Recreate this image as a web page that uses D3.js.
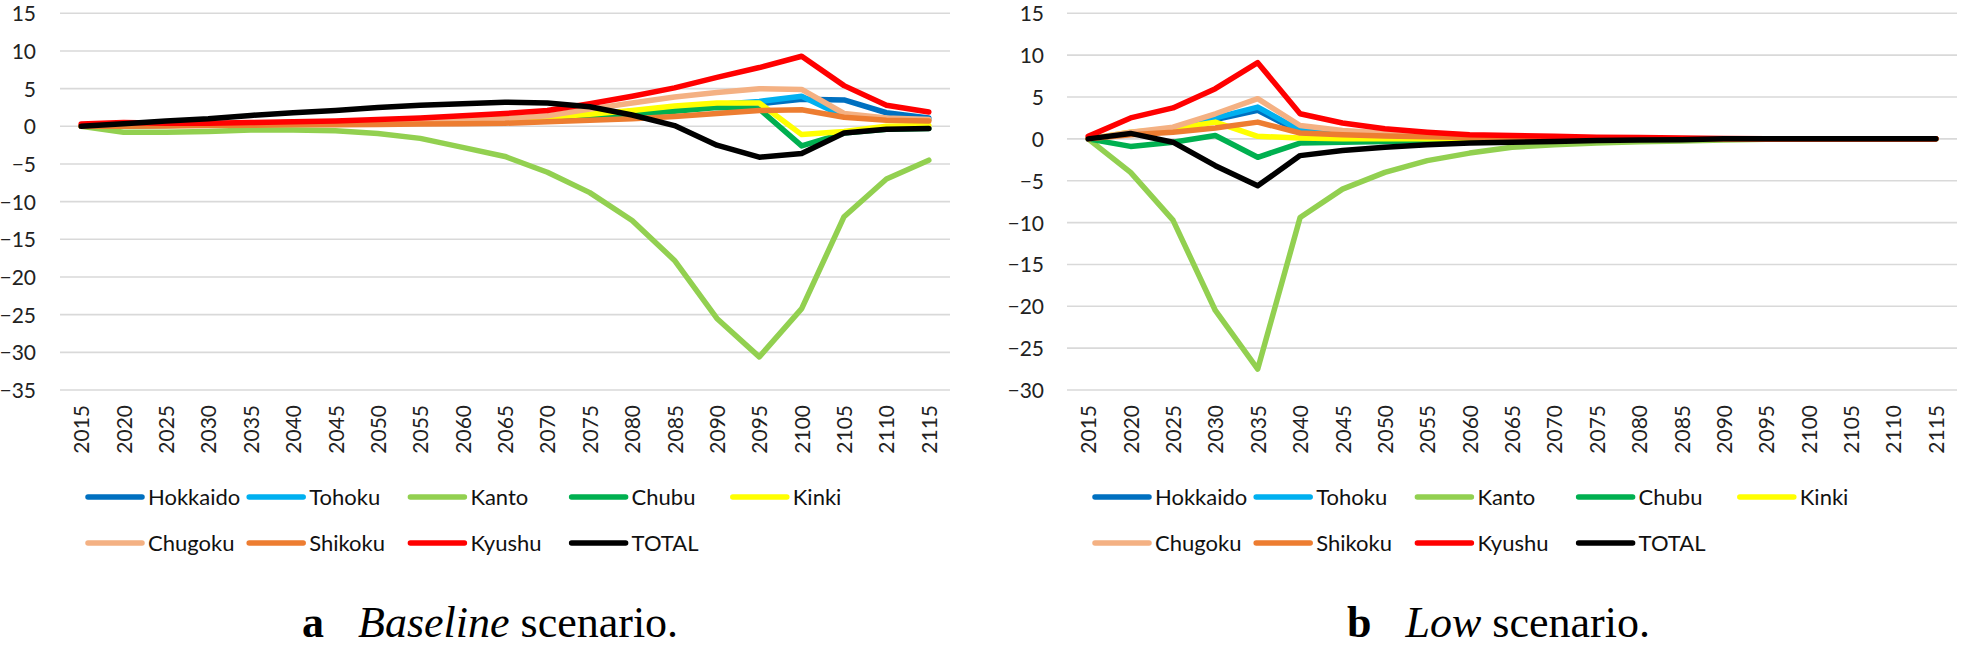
<!DOCTYPE html>
<html>
<head>
<meta charset="utf-8">
<script src="https://cdn.jsdelivr.net/npm/d3@7"></script>
<style>
  html, body { margin: 0; padding: 0; background: #fff; }
  svg { display: block; }
</style>
</head>
<body>
<script>
// ---------- data ----------
const years = ["2015","2020","2025","2030","2035","2040","2045","2050","2055","2060","2065",
               "2070","2075","2080","2085","2090","2095","2100","2105","2110","2115"];
const regions = ["Hokkaido","Tohoku","Kanto","Chubu","Kinki","Chugoku","Shikoku","Kyushu","TOTAL"];
const regionColors = ["#0070C0","#00B0F0","#92D050","#00B050","#FFFF00","#F4B183","#ED7D31","#FF0000","#000000"];

const yTicksBaseline = [15, 10, 5, 0, -5, -10, -15, -20, -25, -30, -35];
const yTicksLow = [15, 10, 5, 0, -5, -10, -15, -20, -25, -30];

// Baseline scenario
const baseHokkaido = [0,0.1,0.2,0.3,0.4,0.5,0.6,0.7,0.8,0.9,1.0,1.2,1.4,1.8,2.2,2.6,3.0,3.6,3.5,1.8,1.1];
const baseTohoku   = [0,0.1,0.2,0.3,0.4,0.5,0.6,0.7,0.8,0.9,1.0,1.2,1.5,2.0,2.4,2.9,3.3,4.0,1.3,1.0,0.9];
const baseKanto    = [0,-0.8,-0.8,-0.7,-0.5,-0.5,-0.6,-0.95,-1.6,-2.8,-4.0,-6.1,-8.8,-12.5,-17.8,-25.5,-30.6,-24.2,-12.0,-7.0,-4.5];
const baseChubu    = [0,0.05,0.1,0.2,0.3,0.4,0.5,0.6,0.7,0.8,0.9,1.1,1.3,1.6,2.0,2.5,2.3,-2.6,-0.9,-0.4,-0.3];
const baseKinki    = [0,0.1,0.2,0.3,0.4,0.5,0.5,0.6,0.7,0.8,1.0,1.2,1.6,2.1,2.7,3.1,3.1,-1.1,-0.7,0,0.1];
const baseChugoku  = [0,0.1,0.2,0.3,0.4,0.4,0.5,0.6,0.7,0.8,1.0,1.4,2.3,3.1,3.9,4.5,5.0,4.9,1.7,1.1,0.9];
const baseShikoku  = [0,0,0.05,0.1,0.15,0.2,0.2,0.25,0.3,0.35,0.4,0.6,0.8,1.0,1.3,1.7,2.1,2.2,1.2,0.8,0.7];
const baseKyushu   = [0.3,0.5,0.4,0.4,0.5,0.6,0.7,0.9,1.1,1.4,1.7,2.1,3.0,4.0,5.1,6.5,7.8,9.3,5.4,2.8,1.9];
const baseTotal    = [0,0.35,0.7,1.0,1.45,1.8,2.1,2.5,2.8,3.0,3.2,3.1,2.6,1.5,0.1,-2.5,-4.1,-3.6,-0.9,-0.4,-0.3];

// Low scenario
const lowHokkaido = [0,0.6,1.1,2.3,3.4,0.8,0.5,0.3,0.2,0.1,0,0,0,0,0,0,0,0,0,0,0];
const lowTohoku   = [0,0.6,1.2,2.5,3.8,1.0,0.6,0.4,0.3,0.2,0.1,0,0,0,0,0,0,0,0,0,0];
const lowKanto    = [0,-4.0,-9.7,-20.5,-27.5,-9.4,-6.0,-4.0,-2.6,-1.7,-1.0,-0.7,-0.5,-0.35,-0.25,-0.15,-0.05,0,0,0,0];
const lowChubu    = [0,-0.9,-0.4,0.4,-2.2,-0.5,-0.4,-0.3,-0.2,-0.15,-0.1,-0.05,0,0,0,0,0,0,0,0,0];
const lowKinki    = [0,0.8,1.2,2.0,0.3,0.1,0,0,0,0,0,0,0,0,0,0,0,0,0,0,0];
const lowChugoku  = [0,0.8,1.4,3.0,4.8,1.6,1.0,0.7,0.5,0.3,0.2,0.1,0.05,0,0,0,0,0,0,0,0];
const lowShikoku  = [0,0.5,0.8,1.3,2.0,0.7,0.5,0.35,0.25,0.15,0.1,0.05,0,0,0,0,0,0,0,0,0];
const lowKyushu   = [0.3,2.5,3.7,6.0,9.1,3.0,1.9,1.2,0.8,0.5,0.4,0.3,0.2,0.15,0.1,0.05,0,0,0,0,0];
const lowTotal    = [0,0.65,-0.4,-3.2,-5.6,-2.0,-1.4,-1.0,-0.7,-0.5,-0.4,-0.3,-0.2,-0.15,-0.1,0,0,0,0,0,0];

const baselineSeries = [baseHokkaido, baseTohoku, baseKanto, baseChubu, baseKinki, baseChugoku, baseShikoku, baseKyushu, baseTotal];
const lowSeries = [lowHokkaido, lowTohoku, lowKanto, lowChubu, lowKinki, lowChugoku, lowShikoku, lowKyushu, lowTotal];

// ---------- drawing ----------
const W = 1961, H = 646;
const svg = d3.select("body").append("svg").attr("width", W).attr("height", H);

const sansFont = "Lato, 'Open Sans', sans-serif";
const serifFont = "'Liberation Serif', 'DejaVu Serif', serif";

function panel(cfg) {
  const g = svg.append("g");
  const x = d3.scalePoint().domain(years).range([cfg.left, cfg.right]).padding(0.5);
  const y = d3.scaleLinear().domain(cfg.domain).range([390, 13.3]);

  // gridlines
  g.append("g").selectAll("line").data(cfg.ticks).join("line")
    .attr("x1", cfg.left).attr("x2", cfg.right)
    .attr("y1", d => y(d)).attr("y2", d => y(d))
    .attr("stroke", "#d9d9d9").attr("stroke-width", 1.6);

  // y axis labels
  const yAxis = d3.axisLeft(y).tickValues(cfg.ticks).tickSize(0).tickPadding(0).tickFormat(d3.format("d"));
  const ya = g.append("g").attr("transform", `translate(${cfg.yLabelX},0)`).call(yAxis);
  ya.select(".domain").remove();
  ya.selectAll("text").attr("font-family", sansFont).attr("font-size", 21).attr("fill", "#222")
    .attr("dy", "0.36em");

  // x axis labels (rotated)
  const xAxis = d3.axisBottom(x).tickSize(0).tickPadding(0);
  const xa = g.append("g").attr("transform", `translate(0,405)`).call(xAxis);
  xa.select(".domain").remove();
  xa.selectAll("text")
    .attr("font-family", sansFont).attr("font-size", 21).attr("fill", "#222")
    .attr("transform", "rotate(-90)")
    .attr("text-anchor", "end")
    .attr("x", 0).attr("y", 0).attr("dy", "0.36em");

  // lines
  const line = d3.line().x((d, i) => x(years[i])).y(d => y(d));
  g.append("g").selectAll("path").data(cfg.series).join("path")
    .attr("d", d => line(d))
    .attr("fill", "none")
    .attr("stroke", (d, i) => regionColors[i])
    .attr("stroke-width", 5.5)
    .attr("stroke-linejoin", "round")
    .attr("stroke-linecap", "round");

  // legend
  const lg = g.append("g");
  regions.forEach((r, i) => {
    const col = i % 5, row = Math.floor(i / 5);
    const lx = cfg.left + 28 + col * 161.2;
    const ly = 497 + row * 46;
    lg.append("line").attr("x1", lx).attr("x2", lx + 54).attr("y1", ly).attr("y2", ly)
      .attr("stroke", regionColors[i]).attr("stroke-width", 5.5).attr("stroke-linecap", "round");
    lg.append("text").attr("x", lx + 60).attr("y", ly).attr("dy", "0.36em")
      .attr("font-family", sansFont).attr("font-size", 22).attr("fill", "#111").text(r);
  });

  // caption
  const cap = g.append("text").attr("x", cfg.capX).attr("y", 637)
    .attr("font-family", serifFont).attr("font-size", 44).attr("fill", "#000");
  cap.append("tspan").attr("font-weight", "bold").text(cfg.capLetter);
  cap.append("tspan").attr("dx", 34).attr("font-style", "italic").text(cfg.capName);
  cap.append("tspan").text(" scenario.");
}

panel({ left: 60, right: 950, domain: [-35, 15], ticks: yTicksBaseline, yLabelX: 36,
        series: baselineSeries, capX: 302, capLetter: "a", capName: "Baseline" });
panel({ left: 1067, right: 1957, domain: [-30, 15], ticks: yTicksLow, yLabelX: 1044,
        series: lowSeries, capX: 1347, capLetter: "b", capName: "Low" });
</script>
</body>
</html>
